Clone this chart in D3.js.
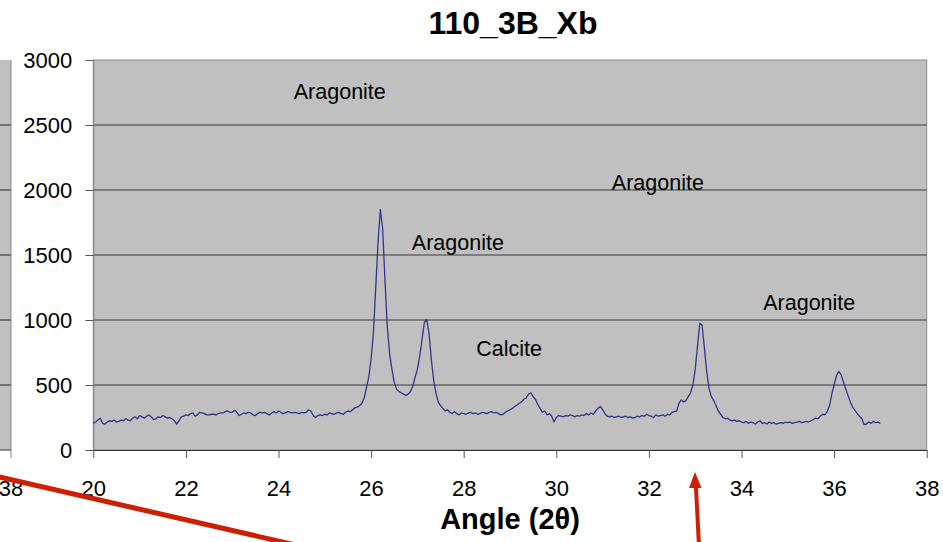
<!DOCTYPE html>
<meta charset="utf-8">
<style>
body { margin: 0; background: #fff; }
svg { display: block; font-family: "Liberation Sans", Arial, sans-serif; }
.tick text { font-size: 22px; fill: #000; }
.note { font-size: 21.5px; fill: #000; }
</style>
<body>
<script src="https://cdn.jsdelivr.net/npm/d3@7"></script>
<script>

// diffractogram 110_3B_Xb, counts every 0.05 deg from 20 to 37
var startAngle = 20,
    angleStep = 0.05;

var counts = [
  205, 215, 230, 245, 205, 200, 215, 225, 220, 230, 215, 220, 230, 225, 240, 230, 225, 245, 255, 240, // 20
  265, 255, 245, 260, 270, 255, 235, 240, 255, 250, 265, 255, 245, 250, 240, 225, 200, 225, 255, 260, // 21
  270, 265, 280, 285, 260, 270, 290, 285, 280, 270, 270, 275, 275, 270, 280, 285, 285, 295, 300, 290, // 22
  290, 305, 290, 265, 275, 285, 280, 290, 285, 270, 265, 280, 290, 285, 290, 280, 270, 285, 295, 285, // 23
  300, 290, 280, 285, 295, 290, 285, 290, 285, 280, 290, 285, 290, 310, 300, 265, 250, 265, 270, 265, // 24
  275, 270, 285, 280, 275, 285, 290, 280, 275, 290, 300, 295, 310, 325, 330, 340, 360, 400, 480, 560, // 25
  700, 900, 1250, 1600, 1850, 1700, 1300, 950, 740, 620, 520, 470, 450, 440, 430, 420, 430, 450, 490, 560, // 26
  620, 720, 850, 980, 1005, 900, 700, 540, 440, 370, 340, 320, 300, 310, 290, 280, 295, 280, 270, 285, // 27
  280, 275, 285, 290, 280, 285, 275, 280, 290, 285, 280, 290, 295, 285, 290, 280, 270, 275, 290, 300, // 28
  310, 320, 335, 345, 360, 370, 390, 400, 430, 440, 410, 390, 350, 320, 290, 300, 270, 280, 260, 215, // 29
  250, 265, 260, 255, 265, 260, 270, 265, 255, 265, 260, 270, 265, 280, 270, 285, 275, 300, 320, 335, // 30
  310, 280, 260, 255, 260, 250, 255, 260, 250, 255, 260, 250, 255, 245, 250, 260, 255, 265, 260, 275, // 31
  265, 260, 250, 270, 260, 265, 270, 260, 275, 270, 290, 295, 300, 360, 385, 370, 380, 410, 440, 500, // 32
  620, 800, 975, 960, 780, 600, 470, 410, 380, 340, 300, 275, 250, 240, 245, 230, 225, 230, 220, 225, // 33
  215, 210, 220, 205, 215, 210, 200, 215, 225, 205, 210, 200, 215, 205, 210, 200, 205, 210, 205, 215, // 34
  210, 215, 205, 210, 215, 220, 210, 215, 220, 215, 225, 235, 245, 240, 260, 275, 270, 295, 340, 430, // 35
  500, 570, 605, 580, 525, 470, 420, 370, 330, 305, 280, 260, 240, 195, 200, 215, 205, 220, 210, 215, // 36
  205                                                                                                // 37
];

var xTicks = [20, 22, 24, 26, 28, 30, 32, 34, 36, 38];
var yTicks = [0, 500, 1000, 1500, 2000, 2500, 3000];

var noteLabels = ["Aragonite", "Aragonite", "Aragonite", "Aragonite", "Calcite"];
var noteAngles = [24.33, 26.88, 31.2, 34.47, 28.27];
var noteCounts = [2700, 1540, 2000, 1075, 725];

var width = 943,
    height = 542,
    plotLeft = 93.3,
    plotRight = 926.7,
    plotTop = 60,
    plotBottom = 450;

var x = d3.scaleLinear().domain([20, 38]).range([plotLeft, plotRight]);
var y = d3.scaleLinear().domain([0, 3000]).range([plotBottom, plotTop]);

var svg = d3.select("body").append("svg")
    .attr("width", width)
    .attr("height", height);

// sliver of the neighbouring chart at the left edge
var prev = svg.append("g");
prev.append("rect")
    .attr("x", 0).attr("y", plotTop)
    .attr("width", 11).attr("height", plotBottom - plotTop)
    .attr("fill", "#c0c0c0");
prev.selectAll("line")
    .data(yTicks.slice(1, -1))
  .enter().append("line")
    .attr("x1", 0).attr("x2", 11)
    .attr("y1", function(d) { return y(d); })
    .attr("y2", function(d) { return y(d); })
    .attr("stroke", "#3a3a3a")
    .attr("stroke-width", 1.2);
prev.append("line")
    .attr("x1", 11).attr("x2", 11).attr("y1", plotTop).attr("y2", plotBottom + 8)
    .attr("stroke", "#888");
prev.append("line")
    .attr("x1", 0).attr("x2", 11).attr("y1", plotBottom).attr("y2", plotBottom)
    .attr("stroke", "#333");
prev.append("text")
    .attr("x", 11).attr("y", 496)
    .attr("text-anchor", "middle")
    .style("font-size", "22px")
    .text("38");

// plot area
svg.append("rect")
    .attr("x", plotLeft).attr("y", plotTop)
    .attr("width", plotRight - plotLeft).attr("height", plotBottom - plotTop)
    .attr("fill", "#c0c0c0")
    .attr("stroke", "#8a8a8a");

svg.append("g")
  .selectAll("line")
    .data(yTicks.slice(1, -1))
  .enter().append("line")
    .attr("x1", plotLeft).attr("x2", plotRight)
    .attr("y1", function(d) { return y(d); })
    .attr("y2", function(d) { return y(d); })
    .attr("stroke", "#3a3a3a")
    .attr("stroke-width", 1.2);

var yAxis = svg.append("g")
    .attr("transform", "translate(" + plotLeft + ",0)")
    .call(d3.axisLeft(y).tickValues(yTicks).tickFormat(d3.format("d"))
        .tickSize(8).tickSizeOuter(0).tickPadding(13));
yAxis.select(".domain").attr("stroke", "#808080");
yAxis.selectAll(".tick line").attr("stroke", "#555");

var xAxis = svg.append("g")
    .attr("transform", "translate(0," + plotBottom + ")")
    .call(d3.axisBottom(x).tickValues(xTicks).tickSize(8).tickSizeOuter(0).tickPadding(22));
xAxis.select(".domain").attr("stroke", "#333");
xAxis.selectAll(".tick line").attr("stroke", "#555");

var line = d3.line()
    .x(function(d, i) { return x(startAngle + i * angleStep); })
    .y(function(d) { return y(d); });

svg.append("path")
    .datum(counts)
    .attr("d", line)
    .attr("fill", "none")
    .attr("stroke", "#34348c")
    .attr("stroke-width", 1.3)
    .attr("stroke-linejoin", "round");

svg.selectAll("text.note")
    .data(noteLabels)
  .enter().append("text")
    .attr("class", "note")
    .attr("x", function(d, i) { return x(noteAngles[i]); })
    .attr("y", function(d, i) { return y(noteCounts[i]); })
    .text(function(d) { return d; });

svg.append("text")
    .attr("x", 513).attr("y", 34)
    .attr("text-anchor", "middle")
    .style("font-size", "32px")
    .style("font-weight", "bold")
    .text("110_3B_Xb");

svg.append("text")
    .attr("x", 510).attr("y", 529)
    .attr("text-anchor", "middle")
    .style("font-size", "29px")
    .style("font-weight", "bold")
    .text("Angle (2θ)");

// red pointer arrows drawn over the slide
svg.append("line")
    .attr("x1", -5).attr("y1", 476)
    .attr("x2", 300).attr("y2", 546)
    .attr("stroke", "#cc1f05")
    .attr("stroke-width", 5);

svg.append("line")
    .attr("x1", 699).attr("y1", 546)
    .attr("x2", 695.8).attr("y2", 484)
    .attr("stroke", "#cc1f05")
    .attr("stroke-width", 4);
svg.append("path")
    .attr("d", "M695,472L701.5,488L689,488Z")
    .attr("fill", "#cc1f05");

</script>
